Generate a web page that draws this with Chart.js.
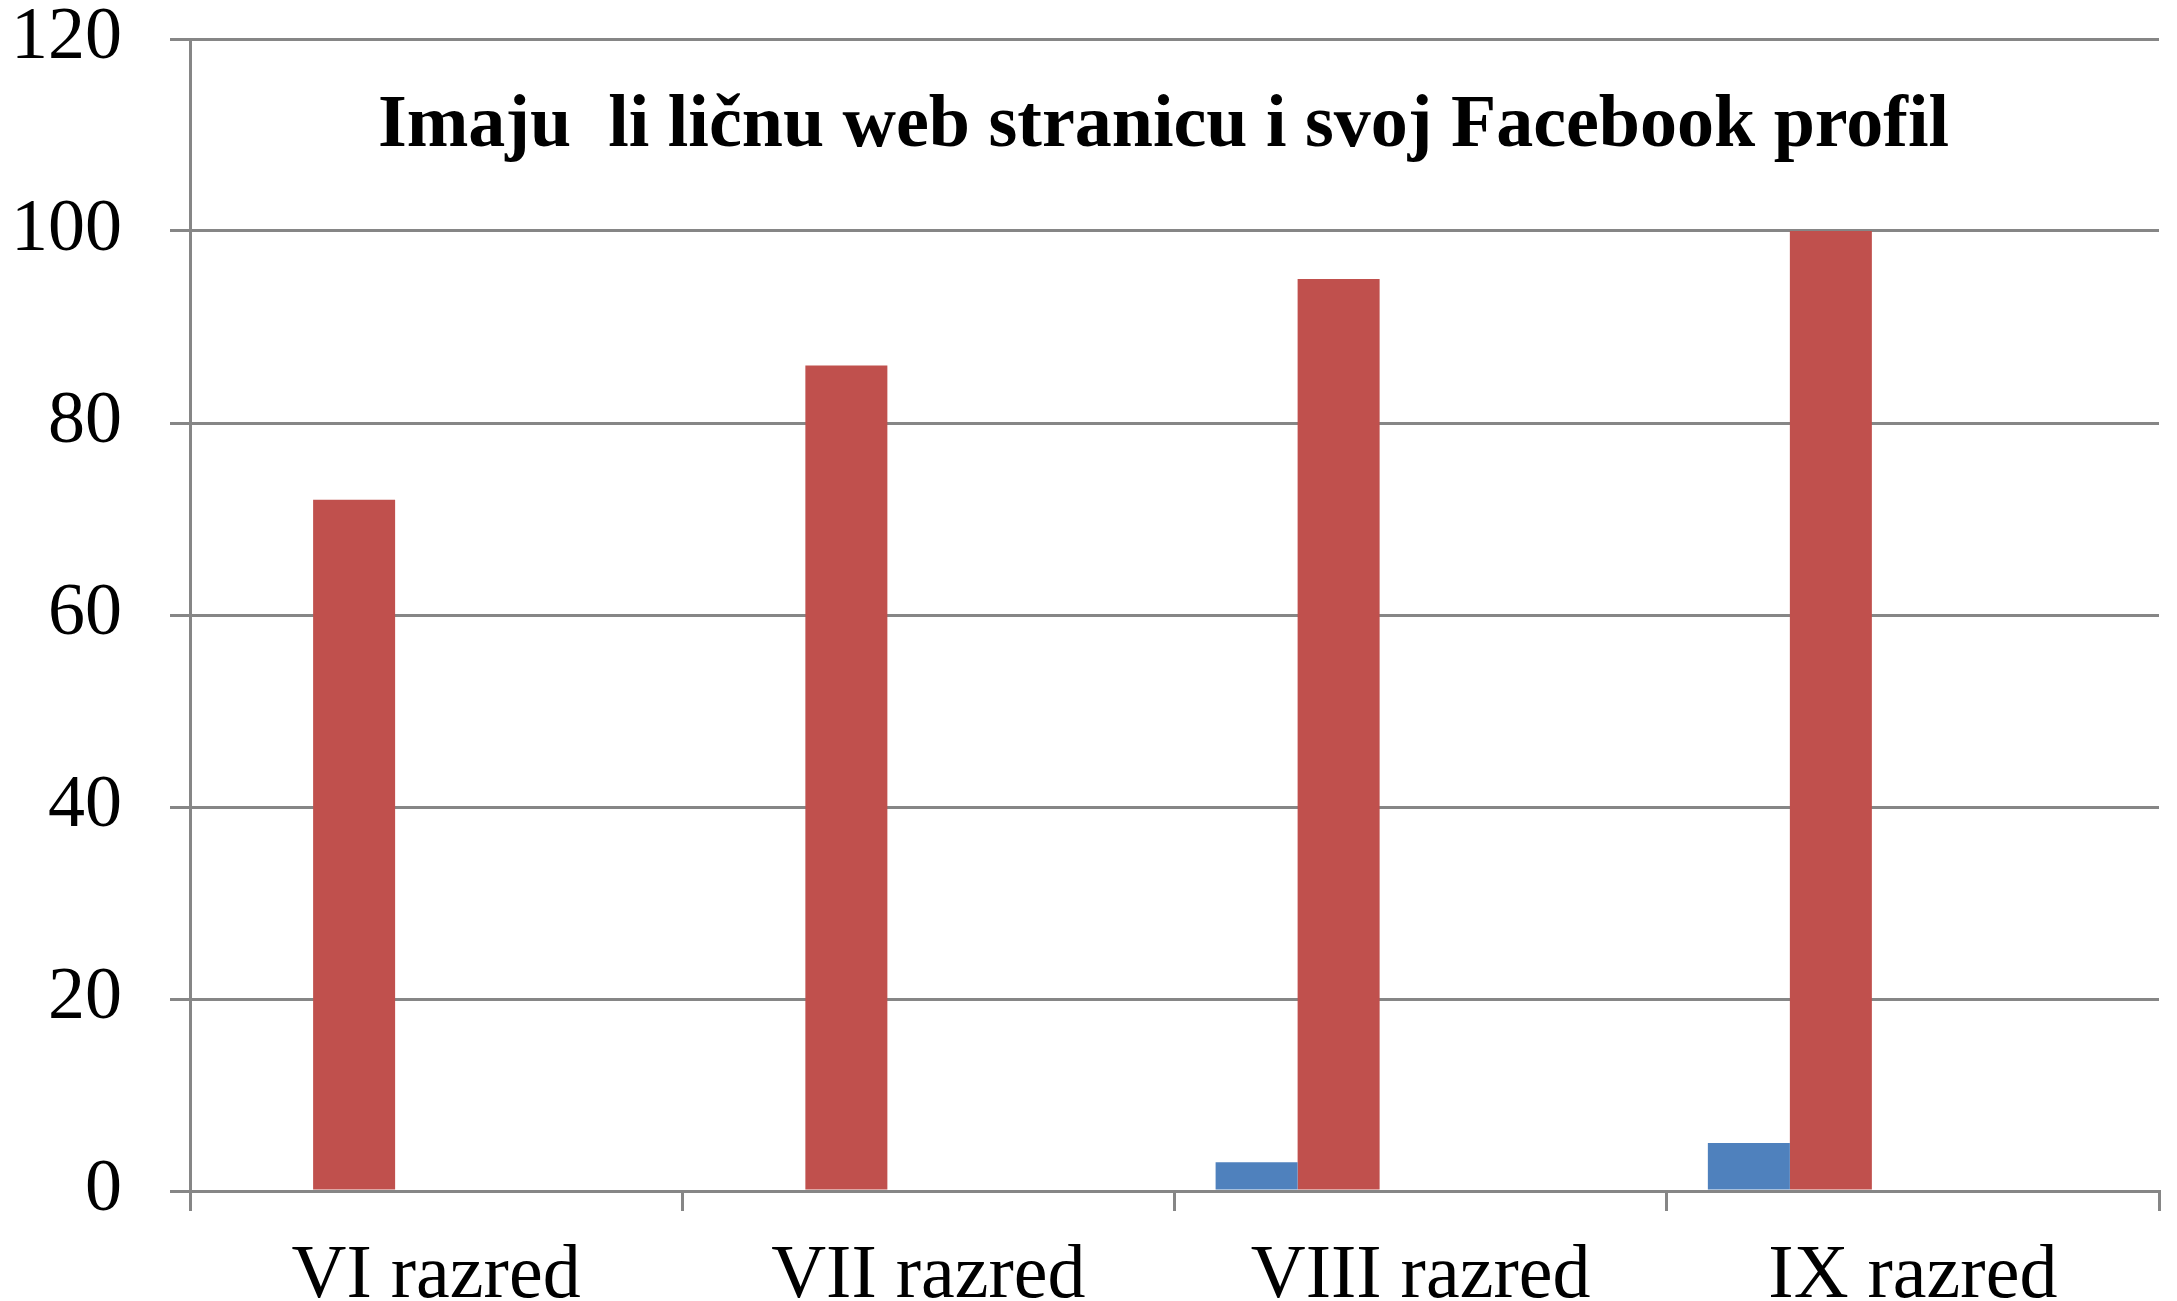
<!DOCTYPE html>
<html>
<head>
<meta charset="utf-8">
<script src="https://cdn.jsdelivr.net/npm/chart.js@4"></script>
<style>
    html, body { margin: 0; padding: 0; background: #fff; }
    #wrap { width: 2177px; height: 1301px; position: relative; }
</style>
</head>
<body>
<div id="wrap"><canvas id="razrediChart"></canvas></div>
<script>
// Podaci
const razredi = ['VI razred', 'VII razred', 'VIII razred', 'IX razred'];
const serija1 = [0, 0, 3, 5];
const serija2 = [72, 86, 95, 100];
const serija3 = [0, 0, 0, 0];
const serija4 = [0, 0, 0, 0];
const serija5 = [0, 0, 0, 0];
const yTicks = [0, 20, 40, 60, 80, 100, 120];
const naslov = 'Imaju  li ličnu web stranicu i svoj Facebook profil';

const sivo = '#868686';
const serif = "'Liberation Serif', 'Times New Roman', serif";

// naslov je unutar grafikona, izmedju 120 i 100
const naslovPlugin = {
    id: 'naslovUnutra',
    afterDraw(chart) {
        const ctx = chart.ctx;
        const area = chart.chartArea;
        const y = chart.scales.y.getPixelForValue(110);
        ctx.save();
        ctx.font = "bold 74px " + serif;
        ctx.fillStyle = '#000';
        ctx.textAlign = 'center';
        ctx.textBaseline = 'middle';
        ctx.fillText(naslov, (area.left + area.right) / 2 - 11, y - 8);
        ctx.restore();
    }
};

const ctx = document.getElementById('razrediChart').getContext('2d');
const razrediChart = new Chart(ctx, {
    type: 'bar',
    data: {
        labels: razredi,
        datasets: [
            { label: 'Serija 1', data: serija1, backgroundColor: '#4F81BD' },
            { label: 'Serija 2', data: serija2, backgroundColor: '#C0504D' },
            { label: 'Serija 3', data: serija3, backgroundColor: '#9BBB59' },
            { label: 'Serija 4', data: serija4, backgroundColor: '#8064A2' },
            { label: 'Serija 5', data: serija5, backgroundColor: '#4BACC6' }
        ]
    },
    options: {
        responsive: true,
        maintainAspectRatio: false,
        animation: false,
        categoryPercentage: 0.833,
        barPercentage: 1,
        layout: { padding: { left: 0, right: 18, top: 0, bottom: 0 } },
        plugins: {
            legend: { display: false },
            title: { display: false },
            tooltip: { enabled: false }
        },
        scales: {
            x: {
                afterFit(scale) { scale.height = 110; },
                grid: { drawOnChartArea: false, drawTicks: true, tickLength: 20, color: sivo, lineWidth: 3 },
                border: { color: sivo, width: 3 },
                ticks: { font: { family: serif, size: 76, lineHeight: 1 }, color: '#000', padding: 28, maxRotation: 0 }
            },
            y: {
                min: 0,
                max: 120,
                afterBuildTicks(scale) {
                    scale.ticks = yTicks.map(v => ({ value: v }));
                },
                afterFit(scale) {
                    scale.width = 190;
                    scale.paddingTop = 39;
                    scale.paddingBottom = 0;
                },
                grid: { color: sivo, lineWidth: 3, tickLength: 20 },
                border: { color: sivo, width: 3 },
                ticks: { font: { family: serif, size: 74, lineHeight: 1 }, color: '#000', padding: 48 }
            }
        }
    },
    plugins: [naslovPlugin]
});
</script>
</body>
</html>
